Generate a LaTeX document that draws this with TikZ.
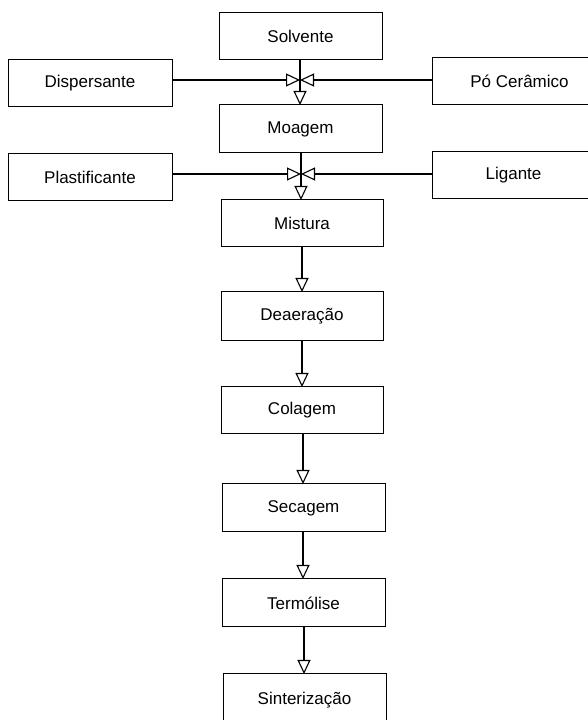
\documentclass[tikz,border=0pt]{standalone}
\usepackage{fontspec}
\setmainfont{Liberation Sans}
\usetikzlibrary{arrows.meta}
\begin{document}
\begin{tikzpicture}[x=1pt,y=1pt,
  box/.style={draw, line width=1pt, inner sep=0pt},
  conn/.style={line width=1.4pt},
  tri/.style={-{Triangle[open, length=14pt, width=13pt, line width=1.1pt]}},
  lbl/.style={font=\fontsize{17}{20}\selectfont}]
\clip (0,0) rectangle (588,720);
\fill[white] (0,0) rectangle (588,720);
% boxes
\draw[box] (219,660) rectangle (382,707) node[pos=.5,lbl] (solv) {Solvente};
\draw[box] (8,613) rectangle (172,660) node[pos=.5,lbl] (disp) {Dispersante};
\draw[box] (432,615) rectangle (595,662) node[pos=.5,lbl,xshift=6pt] (po) {Pó Cerâmico};
\draw[box] (219,567) rectangle (382,615) node[pos=.5,lbl] (moag) {Moagem};
\draw[box] (8,519) rectangle (172,566) node[pos=.5,lbl] (plast) {Plastificante};
\draw[box] (432,521) rectangle (595,568) node[pos=.5,lbl] (lig) {Ligante};
\draw[box] (221,473) rectangle (383,520) node[pos=.5,lbl] (mist) {Mistura};
\draw[box] (221,379) rectangle (383,428) node[pos=.5,lbl] (deae) {Deaeração};
\draw[box] (221,286) rectangle (383,333) node[pos=.5,lbl] (cola) {Colagem};
\draw[box] (222,188) rectangle (385,236) node[pos=.5,lbl] (seca) {Secagem};
\draw[box] (222,93) rectangle (385,141) node[pos=.5,lbl] (term) {Termólise};
\draw[box] (223,-6) rectangle (386,46) node[pos=.5,lbl] (sint) {Sinterização};
% junctions
\coordinate (j1) at (300,640);
\coordinate (j2) at (301,546);
% connectors
\draw[conn] (300,660) -- (j1);
\draw[conn,tri] (j1) -- (300,615);
\draw[conn,tri] (172,640) -- (j1);
\draw[conn,tri] (432,640) -- (j1);
\draw[conn] (301,567) -- (j2);
\draw[conn,tri] (j2) -- (301,520);
\draw[conn,tri] (172,546) -- (j2);
\draw[conn,tri] (432,546) -- (j2);
\draw[conn,tri] (302,473) -- (302,428);
\draw[conn,tri] (302,379) -- (302,333);
\draw[conn,tri] (303,286) -- (303,236);
\draw[conn,tri] (303,188) -- (303,141);
\draw[conn,tri] (304,93) -- (304,46);
\end{tikzpicture}
\end{document}
